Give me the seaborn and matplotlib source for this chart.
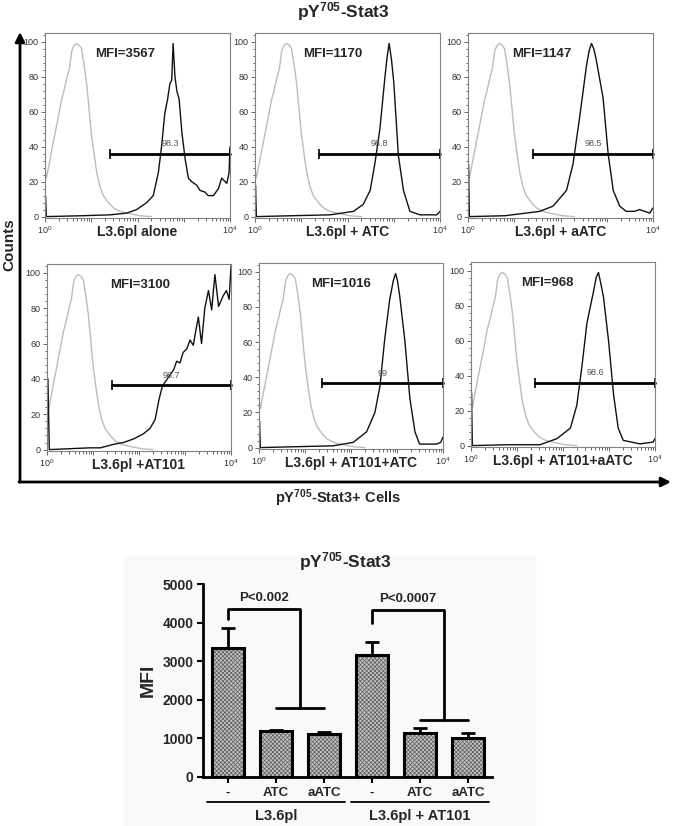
import numpy as np
import pandas as pd
import matplotlib
matplotlib.use("Agg")
import matplotlib.pyplot as plt
import seaborn as sns
from matplotlib.ticker import AutoMinorLocator, LogLocator, NullFormatter
from matplotlib.patches import Rectangle
from matplotlib.transforms import blended_transform_factory

# =========================
# Data
# =========================
# flow histograms: x in log10 units (10^0 .. 10^4), y in counts (% of max)
ctrl_log = [0.0, 0.03, 0.11, 0.25, 0.36, 0.42, 0.47, 0.53, 0.58, 0.63, 0.68, 0.74, 0.79,
            0.85, 0.9, 0.95, 1.0, 1.06, 1.12, 1.19, 1.26, 1.37, 1.48, 1.62, 1.77, 2.05, 2.3]
ctrl_counts = [28, 22, 33, 52, 67, 73, 79, 85, 95, 98, 99, 98, 96,
               86, 76, 62, 48, 36, 25, 17, 12, 8, 5, 3, 2, 0.5, 0]

s1_log = [0.0, 0.01, 0.03, 0.8, 1.4, 1.77, 1.98, 2.2, 2.34, 2.45, 2.52, 2.59, 2.65, 2.7, 2.74, 2.77,
          2.81, 2.85, 2.9, 2.96, 3.03, 3.1, 3.17, 3.28, 3.35, 3.46, 3.53, 3.64, 3.75, 3.82, 3.93, 3.98, 4.0]
s1 = [0, 12, 0, 0.5, 1, 2, 4, 8, 12, 25, 40, 59, 67, 76, 78, 99,
      80, 72, 67, 48, 33, 22, 20, 18, 15, 14, 12, 12, 16, 22, 19, 25, 40]

s2_log = [0.0, 0.01, 0.03, 0.8, 1.62, 2.13, 2.34, 2.49, 2.59, 2.7, 2.81, 2.86, 2.9, 2.95, 3.0,
          3.1, 3.21, 3.35, 3.57, 3.93, 4.0]
s2 = [0, 18, 0, 0.5, 1, 3, 7, 15, 30, 50, 80, 92, 99, 90, 77, 35, 15, 3, 1, 1, 3]

s3_log = [0.0, 0.01, 0.03, 0.8, 1.55, 1.84, 2.13, 2.27, 2.41, 2.56, 2.62, 2.67, 2.72, 2.77, 2.92,
          3.03, 3.14, 3.28, 3.42, 3.6, 3.71, 3.93, 4.0]
s3 = [0, 30, 0, 0.5, 3, 6, 15, 30, 56, 86, 95, 99, 96, 90, 68, 36, 15, 6, 3, 3, 4, 2, 5]

s4_log = [0.0, 0.02, 0.05, 0.5, 0.94, 1.16, 1.45, 1.66, 1.88, 2.1, 2.24, 2.35, 2.44, 2.51, 2.75,
          2.82, 2.89, 2.96, 3.04, 3.11, 3.18, 3.24, 3.29, 3.36, 3.43, 3.51, 3.58, 3.65, 3.73, 3.83,
          3.9, 3.96, 4.0]
s4 = [0, 40, 0, 0.5, 1, 1, 3, 4, 6, 9, 12, 17, 29, 36, 45, 50, 49, 55, 57, 62, 59, 68, 75, 60,
      80, 90, 79, 99, 81, 87, 90, 85, 104]

s5_log = [0.0, 0.01, 0.03, 0.8, 1.61, 2.05, 2.34, 2.52, 2.63, 2.73, 2.84, 2.92, 2.97, 3.01, 3.06,
          3.17, 3.28, 3.39, 3.49, 3.86, 3.95, 4.0]
s5 = [0, 15, 0, 0.5, 1, 3, 9, 20, 35, 61, 84, 95, 99, 95, 86, 61, 28, 9, 2, 2, 3, 6]

s6_log = [0.0, 0.01, 0.03, 0.8, 1.5, 1.87, 2.16, 2.3, 2.41, 2.52, 2.67, 2.72, 2.77, 2.82, 2.88,
          2.99, 3.1, 3.2, 3.31, 3.67, 3.96, 4.0]
s6 = [0, 30, 0, 0.5, 0.5, 4, 10, 23, 45, 70, 89, 96, 99, 93, 85, 60, 29, 10, 3, 1, 2, 4]

sample_logs = [s1_log, s2_log, s3_log, s4_log, s5_log, s6_log]
sample_counts = [s1, s2, s3, s4, s5, s6]

hist_names = ["L3.6pl alone", "L3.6pl + ATC", "L3.6pl + aATC",
              "L3.6pl +AT101", "L3.6pl + AT101+ATC", "L3.6pl + AT101+aATC"]
hist_mfi = [3567, 1170, 1147, 3100, 1016, 968]
gate_lo = [1.41, 1.38, 1.41, 1.41, 1.38, 1.40]
gate_y = [36, 36, 36, 36.5, 36.5, 36]
gate_pct = ["98.3", "98.8", "98.5", "98.7", "99", "98.6"]

# bar chart
bar_labels = ["-", "ATC", "aATC", "-", "ATC", "aATC"]
groups = ["L3.6pl", "L3.6pl + AT101"]
mfi_mean = [3340, 1190, 1105, 3160, 1150, 1020]
mfi_err = [510, 25, 70, 330, 130, 110]
br_ref = [0, 3]
br_start = [4090, 4000]
br_top = [4350, 4330]
br_low = [1800, 1480]
p_text = ["P<0.002", "P<0.0007"]
p_y = [4650, 4610]

# =========================
# Style
# =========================
sns.set_theme(style="ticks")
plt.rcParams['font.family'] = ['Liberation Sans', 'DejaVu Sans']
plt.rcParams.update({
    'mathtext.fontset': 'custom',
    'mathtext.rm': 'Liberation Sans',
    'mathtext.bf': 'Liberation Sans:bold',
    'mathtext.default': 'bf',
    'hatch.linewidth': 0.5,
})

W, H = 674, 826
fig = plt.figure(figsize=(W / 100, H / 100), dpi=100)


def px_rect(l, t, r, b):
    return [l / W, 1 - b / H, (r - l) / W, (b - t) / H]


# overlay for frame arrows / titles / background
ov = fig.add_axes([0, 0, 1, 1])
ov.set_xlim(0, W)
ov.set_ylim(H, 0)
ov.axis("off")
ov.add_patch(Rectangle((125, 557), 410, 269, color="#f9f9f9", zorder=0))
arrow = dict(arrowstyle="-|>", lw=2, color="black", mutation_scale=14, shrinkA=0, shrinkB=0)
ov.annotate("", xy=(20, 32), xytext=(20, 482), arrowprops=arrow)
ov.annotate("", xy=(671, 482), xytext=(19, 482), arrowprops=arrow)
ov.text(343, 12, r"pY$^{705}$-Stat3", ha="center", va="center", fontsize=12.5, fontweight="bold")
ov.text(9, 245, "Counts", rotation=90, ha="center", va="center", fontsize=11, fontweight="bold")
ov.text(338, 498, r"pY$^{705}$-Stat3+ Cells", ha="center", va="center", fontsize=10.5, fontweight="bold")
ov.text(345, 562, r"pY$^{705}$-Stat3", ha="center", va="center", fontsize=12.5, fontweight="bold")

# =========================
# Flow histograms
# =========================
hist_boxes = [(45, 33, 230, 218), (255, 33, 440, 218), (468, 33, 653, 218),
              (47, 264, 231, 451), (259, 263, 443, 449), (471, 262, 655, 447)]
mfi_pos = [1.73, 1.69, 1.59, 2.03, 1.79, 1.65]

for i in range(6):
    ax = fig.add_axes(px_rect(*hist_boxes[i]))
    ax.set_xscale("log")
    sns.lineplot(x=10 ** np.array(ctrl_log), y=ctrl_counts, sort=False, estimator=None,
                 color="#bdbdbd", lw=1, ax=ax)
    sns.lineplot(x=10 ** np.array(sample_logs[i]), y=sample_counts[i], sort=False, estimator=None,
                 color="#111111", lw=1, ax=ax)
    # gate
    ax.plot([10 ** gate_lo[i], 1e4], [gate_y[i], gate_y[i]], color="black", lw=2,
            marker="|", markersize=7, mew=1.2, clip_on=False)
    ax.text(10 ** ((gate_lo[i] + 4) / 2), gate_y[i] + 3, gate_pct[i], ha="center", va="bottom",
            fontsize=6.5, color="#555555")
    ax.text(10 ** mfi_pos[i], 93, f"MFI={hist_mfi[i]}", ha="center", va="center",
            fontsize=9.5, fontweight="bold")
    ax.text(0.5, -0.075, hist_names[i], transform=ax.transAxes, ha="center", va="center",
            fontsize=10, fontweight="bold")

    ax.set_xlim(1, 1e4)
    ax.set_ylim(-0.8, 105)
    ax.set_yticks([0, 20, 40, 60, 80, 100])
    ax.yaxis.set_minor_locator(AutoMinorLocator(5))
    ax.set_xticks([1, 10, 100, 1000, 10000])
    ax.set_xticklabels([r"$\mathrm{10^{0}}$", "", "", "", r"$\mathrm{10^{4}}$"])
    ax.xaxis.set_minor_locator(LogLocator(base=10, subs=np.arange(2, 10) * 1.0, numticks=20))
    ax.xaxis.set_minor_formatter(NullFormatter())
    ax.tick_params(which="both", direction="out", colors="#666666", labelcolor="#333333",
                   labelsize=6.5, width=0.7, pad=1.5)
    ax.tick_params(which="major", length=3)
    ax.tick_params(which="minor", length=1.8)
    for s in ax.spines.values():
        s.set_color("#808080")
        s.set_linewidth(0.8)
    ax.set_xlabel("")
    ax.set_ylabel("")

# =========================
# Bar chart
# =========================
bax = fig.add_axes(px_rect(203, 584, 492, 777))
bax.set_facecolor("none")
df = pd.DataFrame({
    "cond": [f"{groups[k // 3]}|{bar_labels[k]}" for k in range(6)],
    "mfi": mfi_mean,
})
order = list(df["cond"])
sns.barplot(data=df, x="cond", y="mfi", order=order, color="#c4c4c4", saturation=1,
            width=0.67, hatch="xxxxxxxx", edgecolor="#5a5a5a", linewidth=0, errorbar=None, ax=bax)
sns.barplot(data=df, x="cond", y="mfi", order=order, color="black", fill=False,
            width=0.67, linewidth=2.2, errorbar=None, ax=bax)
bax.errorbar(np.arange(6), mfi_mean, yerr=[np.zeros(6), mfi_err], fmt="none", ecolor="black",
             elinewidth=2, capsize=5, capthick=2, zorder=3)

for k in range(2):
    r = br_ref[k]
    bax.plot([r, r, r + 1.5, r + 1.5], [br_start[k], br_top[k], br_top[k], br_low[k]],
             color="black", lw=2, clip_on=False)
    bax.plot([r + 1, r + 2], [br_low[k], br_low[k]], color="black", lw=2)
    bax.text(r + 0.75, p_y[k], p_text[k], ha="center", va="center", fontsize=9.5, fontweight="bold")

bax.set_xlim(-0.52, 5.5)
bax.set_ylim(0, 5000)
bax.set_yticks(range(0, 5001, 1000))
bax.set_xticks(range(6))
bax.set_xticklabels(bar_labels, fontsize=9.5, fontweight="bold")
for lab in bax.get_yticklabels():
    lab.set_fontweight("bold")
    lab.set_fontsize(10)
bax.tick_params(direction="out", length=4, width=1.5, color="black", pad=3)
sns.despine(ax=bax)
for s in ["left", "bottom"]:
    bax.spines[s].set_linewidth(2)
    bax.spines[s].set_color("black")
bax.set_xlabel("")
bax.set_ylabel("MFI", fontsize=14, fontweight="bold")
bax.yaxis.set_label_coords(-0.16, 0.5)

tr = blended_transform_factory(bax.transData, bax.transAxes)
for gi, g in enumerate(groups):
    first, last = gi * 3, gi * 3 + 2
    bax.plot([first - 0.44, last + 0.44], [-0.13, -0.13], transform=tr, color="black",
             lw=1.3, clip_on=False)
    bax.text((first + last) / 2, -0.2, g, transform=tr, ha="center", va="center",
             fontsize=10.5, fontweight="bold")

fig.savefig("out.png", dpi=100)
